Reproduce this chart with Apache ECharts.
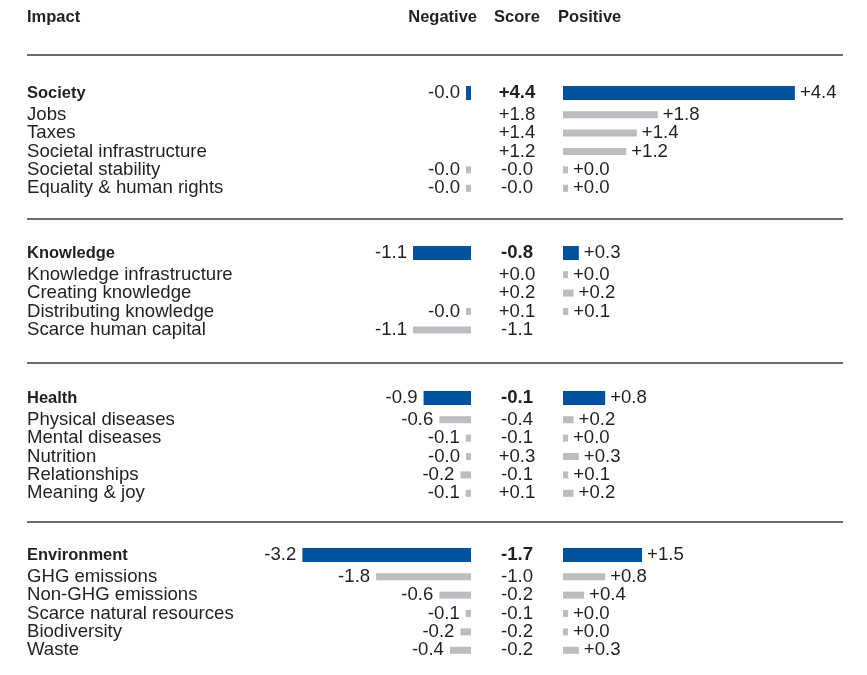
<!DOCTYPE html>
<html>
<head>
<meta charset="utf-8">
<script src="https://cdn.jsdelivr.net/npm/echarts@6/dist/echarts.min.js"></script>
<style>
html,body{margin:0;padding:0;background:#fff;}
#chart{width:867px;height:675px;}
</style>
</head>
<body>
<div id="chart"></div>
<script>
// ---------- DATA ----------
const columnHeaders = ['Impact', 'Negative', 'Score', 'Positive'];

const societyRows = ['Society', 'Jobs', 'Taxes', 'Societal infrastructure', 'Societal stability', 'Equality & human rights'];
const societyNegative = [-0.0, null, null, null, -0.0, -0.0];
const societyScore = [4.4, 1.8, 1.4, 1.2, -0.0, -0.0];
const societyPositive = [4.4, 1.8, 1.4, 1.2, 0.0, 0.0];

const knowledgeRows = ['Knowledge', 'Knowledge infrastructure', 'Creating knowledge', 'Distributing knowledge', 'Scarce human capital'];
const knowledgeNegative = [-1.1, null, null, -0.0, -1.1];
const knowledgeScore = [-0.8, 0.0, 0.2, 0.1, -1.1];
const knowledgePositive = [0.3, 0.0, 0.2, 0.1, null];

const healthRows = ['Health', 'Physical diseases', 'Mental diseases', 'Nutrition', 'Relationships', 'Meaning & joy'];
const healthNegative = [-0.9, -0.6, -0.1, -0.0, -0.2, -0.1];
const healthScore = [-0.1, -0.4, -0.1, 0.3, -0.1, 0.1];
const healthPositive = [0.8, 0.2, 0.0, 0.3, 0.1, 0.2];

const environmentRows = ['Environment', 'GHG emissions', 'Non-GHG emissions', 'Scarce natural resources', 'Biodiversity', 'Waste'];
const environmentNegative = [-3.2, -1.8, -0.6, -0.1, -0.2, -0.4];
const environmentScore = [-1.7, -1.0, -0.2, -0.1, -0.2, -0.2];
const environmentPositive = [1.5, 0.8, 0.4, 0.0, 0.0, 0.3];

const groups = [
  { rows: societyRows, neg: societyNegative, score: societyScore, pos: societyPositive },
  { rows: knowledgeRows, neg: knowledgeNegative, score: knowledgeScore, pos: knowledgePositive },
  { rows: healthRows, neg: healthNegative, score: healthScore, pos: healthPositive },
  { rows: environmentRows, neg: environmentNegative, score: environmentScore, pos: environmentPositive }
];

// ---------- LAYOUT / STYLE ----------
const headerCenters = [93, 253, 398, 555];
const headerBand = 19;
const headerToSub = 21.7;
const subPitch = 18.4;
const leftGridLeft = 207.5, zeroPos = 563, halfWidth = 263.5;
const nameX = 27;
const scoreX = 517;
const separators = [55, 219, 363, 522];
const BLUE = '#00529F', GREY = '#BCBDC0', TEXT = '#231f20';
const FONT = '"Liberation Sans", Arial, sans-serif';
const BODY_SIZE = 18.6;

function fmtNeg(v) { return '-' + Math.abs(v).toFixed(1); }
function fmtPos(v) { return '+' + Math.abs(v).toFixed(1); }
function fmtScore(v) { return (v < 0 || Object.is(v, -0)) ? fmtNeg(v) : fmtPos(v); }
function negData(arr) { return arr.map(v => v === null ? null : (v === 0 ? -1e-6 : v)); }

const grid = [], xAxis = [], yAxis = [], series = [];

groups.forEach((g, gi) => {
  const hc = headerCenters[gi];
  const nSub = g.rows.length - 1;
  const parts = [
    { top: hc - headerBand / 2, height: headerBand, from: 0, to: 1, header: true },
    { top: hc + headerToSub - subPitch / 2, height: nSub * subPitch, from: 1, to: g.rows.length, header: false }
  ];
  parts.forEach(p => {
    const rows = g.rows.slice(p.from, p.to);
    const neg = g.neg.slice(p.from, p.to);
    const pos = g.pos.slice(p.from, p.to);
    const sc = g.score.slice(p.from, p.to);
    const color = p.header ? BLUE : GREY;
    const bw = p.header ? 14 : 7;
    // left (negative) grid
    const li = grid.length;
    grid.push({ left: leftGridLeft, width: halfWidth, top: p.top, height: p.height });
    xAxis.push({ type: 'value', gridIndex: li, min: -5, max: 0, show: false });
    yAxis.push({
      type: 'category', gridIndex: li, inverse: true, data: rows,
      axisLine: { show: false }, axisTick: { show: false }, splitLine: { show: false },
      axisLabel: {
        interval: 0, align: 'left', margin: leftGridLeft - nameX, color: TEXT,
        fontFamily: FONT, fontSize: p.header ? 16.5 : BODY_SIZE, fontWeight: p.header ? 'bold' : 'normal'
      }
    });
    series.push({
      type: 'bar', xAxisIndex: li, yAxisIndex: li, data: negData(neg),
      barWidth: bw, barMinHeight: 5, itemStyle: { color: color }, silent: true,
      label: {
        show: true, position: 'left', distance: 6, color: TEXT, fontFamily: FONT, fontSize: BODY_SIZE,
        formatter: prm => fmtNeg(neg[prm.dataIndex])
      }
    });
    // right (positive) grid
    const ri = grid.length;
    grid.push({ left: zeroPos, width: halfWidth, top: p.top, height: p.height });
    xAxis.push({ type: 'value', gridIndex: ri, min: 0, max: 5, show: false });
    yAxis.push({
      type: 'category', gridIndex: ri, inverse: true, data: rows,
      axisLine: { show: false }, axisTick: { show: false }, splitLine: { show: false },
      axisLabel: {
        interval: 0, align: 'center', margin: zeroPos - scoreX, color: TEXT,
        fontFamily: FONT, fontSize: BODY_SIZE, fontWeight: p.header ? 'bold' : 'normal',
        formatter: (val, idx) => fmtScore(sc[idx])
      }
    });
    series.push({
      type: 'bar', xAxisIndex: ri, yAxisIndex: ri, data: pos,
      barWidth: bw, barMinHeight: 5, itemStyle: { color: color }, silent: true,
      label: {
        show: true, position: 'right', distance: 5, color: TEXT, fontFamily: FONT, fontSize: BODY_SIZE,
        formatter: prm => fmtPos(pos[prm.dataIndex])
      }
    });
  });
});

const headerStyle = { fill: TEXT, font: 'bold 16.5px ' + FONT, verticalAlign: 'middle' };
const graphic = [
  { type: 'text', x: nameX, y: 17, style: Object.assign({ text: columnHeaders[0], align: 'left' }, headerStyle) },
  { type: 'text', x: 477, y: 17, style: Object.assign({ text: columnHeaders[1], align: 'right' }, headerStyle) },
  { type: 'text', x: scoreX, y: 17, style: Object.assign({ text: columnHeaders[2], align: 'center' }, headerStyle) },
  { type: 'text', x: 558, y: 17, style: Object.assign({ text: columnHeaders[3], align: 'left' }, headerStyle) }
];
separators.forEach(y => {
  graphic.push({ type: 'line', shape: { x1: 27, y1: y, x2: 843, y2: y }, style: { stroke: '#3a3a3a', lineWidth: 1.3 }, silent: true });
});

const chart = echarts.init(document.getElementById('chart'), null, { renderer: 'canvas' });
chart.setOption({
  backgroundColor: '#fff',
  animation: false,
  textStyle: { fontFamily: FONT },
  grid, xAxis, yAxis, series, graphic
});
</script>
</body>
</html>
